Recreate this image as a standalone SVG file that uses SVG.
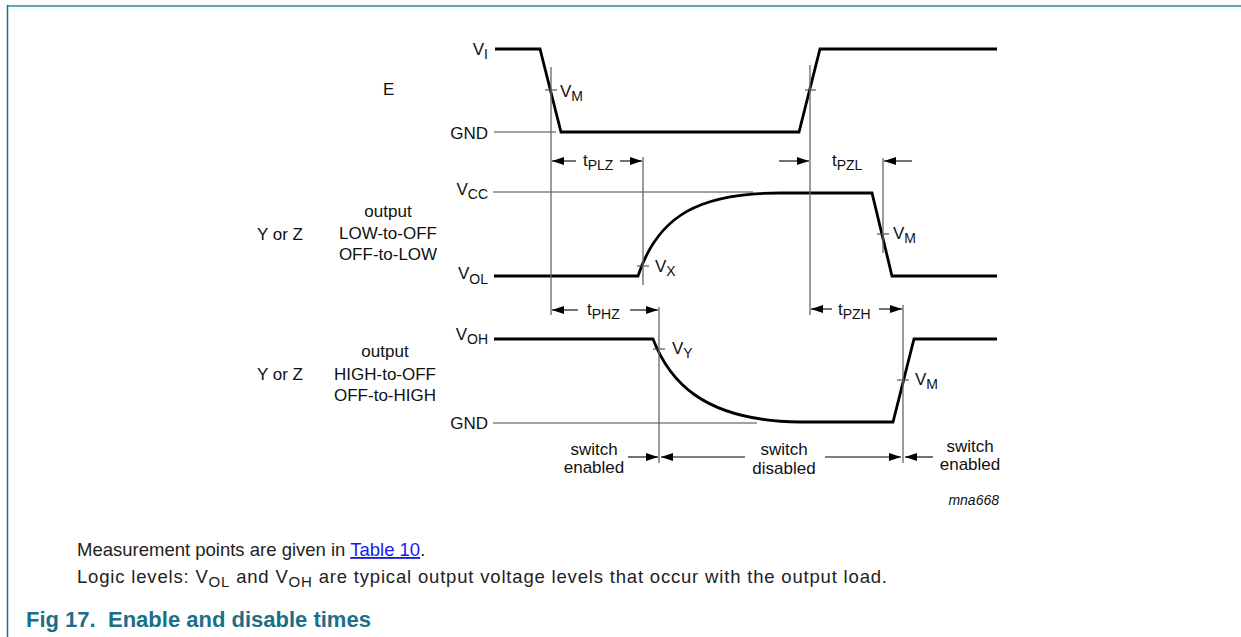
<svg xmlns="http://www.w3.org/2000/svg" width="1241" height="637" viewBox="0 0 1241 637">
<style>
text{font-family:"Liberation Sans",Arial,sans-serif;fill:#111}
.lbl{font-size:17px}
.sub{font-size:14px}
.wave{fill:none;stroke:#000;stroke-width:2.8;stroke-linejoin:miter}
.ref{fill:none;stroke:#444;stroke-width:1.1}
.vl{fill:none;stroke:#666;stroke-width:1.3}
.dim{fill:none;stroke:#000;stroke-width:1.1}
.cap{font-size:18.5px;fill:#222}
.csub{font-size:15px}
.title{font-size:22px;font-weight:bold;fill:#1b6f87}
</style>
<defs>
<marker id="ah" viewBox="0 0 12 8" refX="12" refY="4" markerWidth="12" markerHeight="8" markerUnits="userSpaceOnUse" orient="auto">
<path d="M0,0 L12,4 L0,8 z" fill="#000"/>
</marker>
</defs>
<rect width="1241" height="637" fill="#fff"/>
<g id="frame">
<line x1="7" y1="6" x2="1241" y2="6" stroke="#62a4b8" stroke-width="2"/>
<line x1="7.5" y1="5" x2="7.5" y2="637" stroke="#1d6f88" stroke-width="1.5"/>
</g>
<g id="signal-E">
<text class="lbl" x="383" y="95">E</text>
<line class="ref" x1="494" y1="132" x2="556" y2="132"/>
<polyline class="wave" points="495,49 540,49 561,132 799,132 820,49 997,49"/>
<text class="lbl" x="488" y="55" text-anchor="end">V<tspan class="sub" dy="4">I</tspan></text>
<text class="lbl" x="488" y="139" text-anchor="end">GND</text>
<line class="ref" x1="545" y1="90" x2="557" y2="90"/>
<line class="ref" x1="805" y1="90" x2="816" y2="90"/>
<text class="lbl" x="560" y="97">V<tspan class="sub" dy="4">M</tspan></text>
</g>
<g id="signal-Y-low">
<text class="lbl" x="280" y="240" text-anchor="middle">Y or Z</text>
<text class="lbl" x="388" y="217" text-anchor="middle">output</text>
<text class="lbl" x="388" y="239" text-anchor="middle">LOW-to-OFF</text>
<text class="lbl" x="388" y="260" text-anchor="middle">OFF-to-LOW</text>
<line class="ref" x1="493" y1="192" x2="753" y2="192"/>
<path class="wave" d="M494,276 L638,276 C658,215 700,193 780,193 L872,193 L892,276 L997,276"/>
<text class="lbl" x="488" y="195" text-anchor="end">V<tspan class="sub" dy="4">CC</tspan></text>
<text class="lbl" x="488" y="279" text-anchor="end">V<tspan class="sub" dy="5">OL</tspan></text>
<line class="ref" x1="637" y1="266" x2="649" y2="266"/>
<text class="lbl" x="655" y="272">V<tspan class="sub" dy="4">X</tspan></text>
<line class="ref" x1="877" y1="234" x2="889" y2="234"/>
<text class="lbl" x="893" y="239">V<tspan class="sub" dy="4">M</tspan></text>
</g>
<g id="signal-Y-high">
<text class="lbl" x="280" y="380" text-anchor="middle">Y or Z</text>
<text class="lbl" x="385" y="357" text-anchor="middle">output</text>
<text class="lbl" x="385" y="380" text-anchor="middle">HIGH-to-OFF</text>
<text class="lbl" x="385" y="401" text-anchor="middle">OFF-to-HIGH</text>
<line class="ref" x1="493" y1="423" x2="757" y2="423"/>
<path class="wave" d="M494,339 L653,339 C668,378 700,421 800,422 L893,422 L914,339 L997,339"/>
<text class="lbl" x="488" y="340" text-anchor="end">V<tspan class="sub" dy="4">OH</tspan></text>
<text class="lbl" x="488" y="429" text-anchor="end">GND</text>
<line class="ref" x1="653" y1="349" x2="665" y2="349"/>
<text class="lbl" x="672" y="354">V<tspan class="sub" dy="4">Y</tspan></text>
<line class="ref" x1="897" y1="380" x2="909" y2="380"/>
<text class="lbl" x="915" y="385">V<tspan class="sub" dy="4">M</tspan></text>
</g>
<g id="connectors">
<line class="vl" x1="551" y1="67" x2="551" y2="315"/>
<line class="vl" x1="810" y1="65" x2="810" y2="315"/>
<line class="vl" x1="643" y1="157" x2="643" y2="285"/>
<line class="vl" x1="883" y1="158" x2="883" y2="253"/>
<line class="vl" x1="659" y1="307" x2="659" y2="463"/>
<line class="vl" x1="903" y1="305" x2="903" y2="463"/>
<line class="dim" x1="576" y1="161" x2="552" y2="161" marker-end="url(#ah)"/>
<line class="dim" x1="620" y1="161" x2="642" y2="161" marker-end="url(#ah)"/>
<line class="dim" x1="779" y1="161" x2="809" y2="161" marker-end="url(#ah)"/>
<line class="dim" x1="912" y1="161" x2="884" y2="161" marker-end="url(#ah)"/>
<line class="dim" x1="578" y1="310" x2="552" y2="310" marker-end="url(#ah)"/>
<line class="dim" x1="630" y1="310" x2="658" y2="310" marker-end="url(#ah)"/>
<line class="dim" x1="832" y1="309" x2="811" y2="309" marker-end="url(#ah)"/>
<line class="dim" x1="879" y1="309" x2="902" y2="309" marker-end="url(#ah)"/>
<line class="dim" x1="628" y1="457" x2="658" y2="457" marker-end="url(#ah)"/>
<line class="dim" x1="745" y1="457" x2="661" y2="457" marker-end="url(#ah)"/>
<line class="dim" x1="825" y1="457" x2="901" y2="457" marker-end="url(#ah)"/>
<line class="dim" x1="933" y1="457" x2="905" y2="457" marker-end="url(#ah)"/>
<text class="lbl" x="583" y="166">t<tspan class="sub" dy="4">PLZ</tspan></text>
<text class="lbl" x="832" y="166">t<tspan class="sub" dy="4">PZL</tspan></text>
<text class="lbl" x="587" y="315">t<tspan class="sub" dy="4">PHZ</tspan></text>
<text class="lbl" x="838" y="315">t<tspan class="sub" dy="4">PZH</tspan></text>
<text class="lbl" x="594" y="455" text-anchor="middle">switch</text>
<text class="lbl" x="594" y="473" text-anchor="middle">enabled</text>
<text class="lbl" x="784" y="455" text-anchor="middle">switch</text>
<text class="lbl" x="784" y="474" text-anchor="middle">disabled</text>
<text class="lbl" x="970" y="452" text-anchor="middle">switch</text>
<text class="lbl" x="970" y="470" text-anchor="middle">enabled</text>
<text x="999" y="505" text-anchor="end" style="font-size:14px;font-style:italic">mna668</text>
</g>
<g id="caption">
<text class="cap" x="77" y="556">Measurement points are given in <tspan fill="#1a1aee" text-decoration="underline">Table 10</tspan>.</text>
<text class="cap" x="77" y="583" textLength="810" lengthAdjust="spacing">Logic levels: V<tspan class="csub" dy="4">OL</tspan><tspan dy="-4"> and V</tspan><tspan class="csub" dy="4">OH</tspan><tspan dy="-4"> are typical output voltage levels that occur with the output load.</tspan></text>
<text class="title" x="26" y="627">Fig 17.</text>
<text class="title" x="108" y="627">Enable and disable times</text>
</g>
</svg>
